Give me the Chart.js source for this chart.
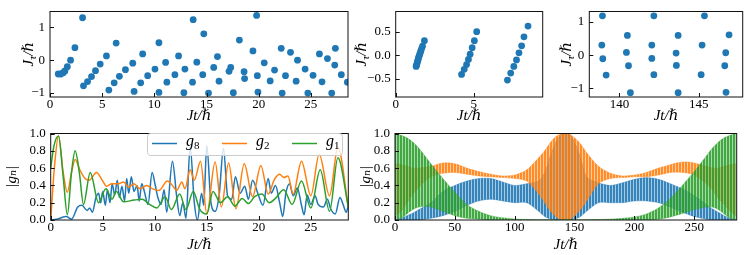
<!DOCTYPE html>
<html>
<head>
<meta charset="utf-8">
<script src="https://cdn.jsdelivr.net/npm/chart.js@4.4.1/dist/chart.umd.min.js"></script>
<style>
  body { margin: 0; background: #fff; width: 748px; height: 255px; position: relative; overflow: hidden; }
  canvas { position: absolute; }
</style>
</head>
<body>
<canvas id="cA"></canvas>
<canvas id="cB"></canvas>
<canvas id="cC"></canvas>
<canvas id="cD"></canvas>
<canvas id="cE"></canvas>
<script>
const blue = "#1f77b4", orange = "#ff7f0e", green = "#2ca02c";

// top left: J_tau against Jt
const aT = [0.79, 1.05, 1.27, 1.43, 1.66, 1.97, 2.39, 3.12, 3.21, 3.6, 3.98, 4.36, 4.81, 5.41, 5.64, 6.15, 6.34, 6.65, 7.23, 7.93,
  8.06, 8.69, 8.88, 9.36, 10.06, 10.44, 10.44, 11.08, 11.2, 11.97, 12.32, 12.83, 12.93, 13.66, 13.72, 14.07, 14.64, 14.74, 15.19, 15.69,
  16.05, 16.2, 17.16, 17.32, 17.57, 18.15, 18.6, 18.65, 19.45, 19.8, 19.87, 19.93, 20.53, 21.1, 21.52, 22.16, 22.25, 22.57, 23.05, 23.59,
  23.72, 24.45, 24.71, 25.21, 25.82, 26.07, 26.59, 27.0, 27.29, 27.35, 27.92, 28.5];
const aJ = [-0.42, -0.42, -0.38, -0.33, -0.2, 0.0, 0.38, 1.29, -0.78, -0.65, -0.5, -0.32, -0.12, 0.13, -0.91, -0.69, 0.52, -0.49, -0.29, -0.09,
  -0.95, -0.69, 0.19, -0.47, -0.27, 0.53, -0.98, -0.07, -0.67, -0.44, 0.13, -0.99, -0.27, -0.67, 1.23, -0.06, -0.44, 0.8, -1.0, -0.22,
  0.11, -0.64, -0.34, -0.22, -0.99, 0.61, -0.35, -0.56, 0.28, 1.36, -0.47, -0.97, -0.08, -0.63, -0.3, 0.36, -1.0, -0.47, 0.24, -0.64,
  0.0, -0.27, -1.0, -0.46, 0.19, -0.66, 0.05, -1.0, -0.15, 0.36, -0.44, -0.67];

// top middle
const bT = [1.31, 1.34, 1.37, 1.40, 1.43, 1.46, 1.49, 1.53, 1.57, 1.61, 1.66, 1.72, 1.84,
  4.22, 4.39, 4.54, 4.66, 4.77, 4.90, 5.04, 5.19,
  7.16, 7.37, 7.57, 7.74, 7.90, 8.07, 8.22, 8.48];
const bJ = [-0.24, -0.21, -0.17, -0.13, -0.10, -0.06, -0.03, 0.01, 0.05, 0.09, 0.14, 0.19, 0.31,
  -0.41, -0.30, -0.20, -0.09, 0.02, 0.16, 0.31, 0.50,
  -0.53, -0.38, -0.24, -0.10, 0.05, 0.20, 0.39, 0.62];

// top right
const cT = [138.93, 138.89, 138.95, 139.16, 140.5, 140.44, 140.57, 140.69, 142.17, 142.04, 142.04, 142.17,
  143.7, 143.57, 143.59, 143.7, 145.36, 145.21, 145.15, 146.91, 146.7, 146.64, 146.72];
const cJ = [1.18, 0.30, -0.11, -0.60, 0.59, 0.08, -0.32, -1.13, 1.18, 0.30, -0.10, -0.59,
  0.59, 0.06, -0.31, -1.13, 1.18, 0.30, -0.59, 0.61, 0.07, -0.32, -1.12];

// bottom left: |g_n| over a short time, [Jt, value]
const g8 = [[0, 0], [0.6, 0.01], [1.5, 0.04], [2.0, 0.01], [2.6, 0.15], [3.0, 0.17], [3.5, 0.11], [3.75, 0.14], [4.0, 0.09],
  [4.35, 0.26], [4.6, 0.31], [4.8, 0.2], [5.0, 0.33], [5.25, 0.17], [5.45, 0.35], [5.7, 0.2], [5.9, 0.42], [6.15, 0.29],
  [6.4, 0.46], [6.6, 0.26], [6.85, 0.39], [7.1, 0.22], [7.3, 0.48], [7.5, 0.31], [7.75, 0.5], [8.0, 0.33], [8.3, 0.4],
  [8.5, 0.22], [8.75, 0.42], [9.0, 0.33], [9.35, 0.18], [9.75, 0.55], [10.05, 0.4], [10.3, 0.26], [10.6, 0.18], [10.9, 0.35],
  [11.15, 0.09], [11.7, 0.68], [12.1, 0.28], [12.4, 0.05], [12.7, 0.2], [13.0, 0.02], [13.4, 0.85], [13.8, 0.2], [14.1, 0.0],
  [14.5, 0.31], [14.7, 0.17], [15.0, 0.86], [15.4, 0.2], [15.8, 0.1], [16.2, 0.3], [16.6, 0.83], [17.0, 0.28], [17.4, 0.24],
  [17.75, 0.5], [18.2, 0.31], [18.65, 0.39], [19.0, 0.24], [19.4, 0.46], [19.9, 0.31], [20.4, 0.17], [20.9, 0.48], [21.2, 0.31],
  [21.6, 0.4], [22.0, 0.2], [22.3, 0.04], [22.6, 0.31], [22.95, 0.42], [23.3, 0.28], [23.7, 0.37], [24.1, 0.17], [24.35, 0.06],
  [24.65, 0.29], [25.0, 0.18], [25.4, 0.28], [25.7, 0.18], [26.2, 0.15], [26.6, 0.24], [26.9, 0.13], [27.35, 0.07], [27.8, 0.26],
  [28.1, 0.18], [28.4, 0.09], [28.6, 0.17]];
const g2 = [[0, 0], [0.35, 0.6], [0.75, 0.97], [1.2, 0.55], [1.6, 0.32], [2.0, 0.55], [2.35, 0.7], [2.8, 0.58], [3.3, 0.48],
  [3.7, 0.46], [4.4, 0.55], [5.0, 0.45], [5.35, 0.39], [5.9, 0.42], [6.5, 0.42], [7.0, 0.44], [7.5, 0.38], [8.0, 0.42],
  [8.6, 0.36], [9.2, 0.4], [9.8, 0.36], [10.4, 0.34], [11.2, 0.45], [11.7, 0.4], [12.1, 0.34], [12.6, 0.44], [12.9, 0.36],
  [13.4, 0.58], [13.8, 0.46], [14.4, 0.68], [15.0, 0.07], [15.8, 0.67], [16.4, 0.15], [17.1, 0.66], [17.8, 0.13], [18.6, 0.65],
  [19.4, 0.27], [20.2, 0.63], [20.9, 0.3], [21.5, 0.47], [22.0, 0.53], [22.4, 0.49], [22.8, 0.51], [23.3, 0.3], [24.1, 0.68],
  [25.0, 0.28], [25.8, 0.76], [26.8, 0.28], [27.6, 0.84], [28.6, 0.15]];
const g1 = [[0, 0.6], [0.3, 0.85], [0.75, 0.97], [1.2, 0.5], [1.6, 0.06], [2.0, 0.55], [2.35, 0.8], [2.75, 0.55], [3.15, 0.18],
  [3.8, 0.55], [4.6, 0.2], [5.3, 0.36], [5.9, 0.24], [6.3, 0.33], [7.0, 0.21], [8.0, 0.23], [8.8, 0.24], [9.5, 0.18],
  [10.2, 0.14], [11.0, 0.27], [11.6, 0.12], [12.4, 0.3], [13.0, 0.12], [13.7, 0.33], [14.3, 0.13], [15.0, 0.07], [15.6, 0.33],
  [16.3, 0.2], [17.0, 0.27], [17.7, 0.16], [18.4, 0.25], [19.0, 0.19], [19.6, 0.27], [20.3, 0.3], [21.0, 0.2], [21.6, 0.25],
  [22.4, 0.35], [23.2, 0.18], [24.1, 0.45], [25.0, 0.14], [25.9, 0.58], [26.8, 0.1], [27.6, 0.72], [28.6, 0.15]];
const legendSubs = ["8", "2", "1"];

// bottom right: envelopes of the fast oscillation of |g_n| over a long time
const tE = [0, 5, 10, 15, 20, 30, 40, 50, 60, 70, 80, 90, 100, 110, 120, 125, 130, 135, 140, 145, 150, 155, 160,
  170, 180, 190, 200, 210, 220, 230, 240, 250, 260, 265, 270, 275, 280, 285];
const g8Hi = [0, 0.02, 0.05, 0.08, 0.12, 0.2, 0.33, 0.4, 0.45, 0.48, 0.48, 0.44, 0.4, 0.42, 0.45, 0.55, 0.75, 0.92, 1.0, 1.0, 0.9, 0.72, 0.5,
  0.43, 0.4, 0.43, 0.47, 0.49, 0.47, 0.42, 0.36, 0.28, 0.18, 0.13, 0.09, 0.05, 0.02, 0];
const g8Lo = [0, 0, 0, 0, 0, 0.02, 0.05, 0.1, 0.17, 0.22, 0.24, 0.22, 0.2, 0.2, 0.1, 0.04, 0.01, 0, 0, 0, 0.01, 0.04, 0.1,
  0.2, 0.2, 0.2, 0.22, 0.22, 0.2, 0.15, 0.09, 0.04, 0.01, 0, 0, 0, 0, 0];
const g2Hi = [0.65, 0.64, 0.62, 0.6, 0.6, 0.62, 0.66, 0.65, 0.6, 0.56, 0.53, 0.51, 0.52, 0.58, 0.72, 0.8, 0.9, 0.97, 1.0, 1.0, 0.95, 0.88, 0.78,
  0.62, 0.54, 0.51, 0.52, 0.55, 0.6, 0.64, 0.67, 0.66, 0.62, 0.6, 0.6, 0.62, 0.64, 0.65];
const g2Lo = [0.05, 0.1, 0.2, 0.3, 0.38, 0.5, 0.54, 0.55, 0.53, 0.51, 0.5, 0.49, 0.48, 0.45, 0.3, 0.2, 0.1, 0.03, 0, 0, 0.05, 0.12, 0.22,
  0.42, 0.48, 0.49, 0.5, 0.5, 0.52, 0.55, 0.55, 0.52, 0.42, 0.35, 0.25, 0.18, 0.1, 0.05];
const g1Hi = [1.0, 0.98, 0.95, 0.9, 0.83, 0.65, 0.48, 0.32, 0.18, 0.1, 0.05, 0.025, 0.012, 0.006, 0.004, 0.003, 0.003, 0.003, 0.003, 0.003, 0.003, 0.003, 0.004,
  0.006, 0.01, 0.02, 0.035, 0.07, 0.14, 0.25, 0.4, 0.56, 0.74, 0.83, 0.9, 0.95, 0.98, 1.0];
const g1Lo = [0, 0.02, 0.07, 0.12, 0.15, 0.15, 0.1, 0.05, 0.02, 0.01, 0, 0, 0, 0, 0, 0, 0, 0, 0, 0, 0, 0, 0,
  0, 0, 0, 0, 0, 0.01, 0.035, 0.075, 0.12, 0.15, 0.15, 0.12, 0.07, 0.02, 0];

// tick values
const ticksA = [0, 5, 10, 15, 20, 25], ticksAy = [-1, 0, 1];
const ticksB = [0, 5], ticksBy = [-0.5, 0, 0.5];
const ticksC = [140, 145], ticksCy = [-1, 0, 1];
const ticksD = [0, 5, 10, 15, 20, 25], ticksDy = [0, 0.2, 0.4, 0.6, 0.8, 1.0];
const ticksE = [0, 50, 100, 150, 200, 250], ticksEy = [0, 0.2, 0.4, 0.6, 0.8, 1.0];

const serif = "'Liberation Serif', 'DejaVu Serif', serif";
const fontTick = { family: serif, size: 13, lineHeight: 1 };
const fontTitle = { family: serif, size: 15, style: "italic" };

function fmt(dec) {
  return (v) => (v < 0 ? "\u2212" : "") + Math.abs(v).toFixed(dec);
}

function axis(min, max, ticks, dec, title, titlePad, tickPad) {
  return {
    type: "linear",
    min: min,
    max: max,
    grid: { display: false, drawTicks: false, tickLength: 0 },
    border: { display: false },
    afterBuildTicks: (s) => { s.ticks = ticks.map((v) => ({ value: v })); },
    ticks: { font: fontTick, color: "#000", padding: tickPad, callback: fmt(dec), maxRotation: 0, autoSkip: false },
    title: { display: !!title, text: title, font: fontTitle, color: "#000", padding: titlePad },
  };
}

// box frame + inward ticks
const frame = {
  id: "frame",
  afterDatasetsDraw(chart) {
    const { ctx, chartArea: a, scales } = chart;
    const x = scales.x, y = scales.y;
    ctx.save();
    ctx.strokeStyle = "#111";
    ctx.lineWidth = 1;
    ctx.beginPath();
    x.ticks.forEach((t) => {
      const p = Math.round(x.getPixelForValue(t.value)) + 0.5;
      ctx.moveTo(p, a.bottom);
      ctx.lineTo(p, a.bottom - 4);
    });
    y.ticks.forEach((t) => {
      const p = Math.round(y.getPixelForValue(t.value)) + 0.5;
      ctx.moveTo(a.left, p);
      ctx.lineTo(a.left + 4, p);
    });
    ctx.stroke();
    ctx.strokeRect(a.left, a.top, a.right - a.left, a.bottom - a.top);
    ctx.restore();
  },
};

// rotated y title J_tau / hbar, with tau as a subscript
function jTauTitle(cx) {
  return {
    id: "jtau",
    afterDraw(chart) {
      const ctx = chart.ctx, a = chart.chartArea;
      const parts = [["J", 15, 0], ["\u03c4", 11, 3], ["/\u210f", 15, 0]];
      ctx.save();
      ctx.fillStyle = "#000";
      ctx.textBaseline = "alphabetic";
      let w = 0;
      parts.forEach((p) => { ctx.font = "italic " + p[1] + "px " + serif; w += ctx.measureText(p[0]).width; });
      ctx.translate(cx, (a.top + a.bottom) / 2);
      ctx.rotate(-Math.PI / 2);
      let x = -w / 2;
      parts.forEach((p) => {
        ctx.font = "italic " + p[1] + "px " + serif;
        ctx.fillText(p[0], x, 5 + p[2]);
        x += ctx.measureText(p[0]).width;
      });
      ctx.restore();
    },
  };
}

// legend with subscripts for the bottom left panel
const legendD = {
  id: "legendD",
  afterDatasetsDraw(chart) {
    const ctx = chart.ctx;
    ctx.save();
    ctx.beginPath();
    ctx.roundRect(147.5, 11.5, 195, 22, 3);
    ctx.fillStyle = "rgba(255,255,255,0.8)";
    ctx.fill();
    ctx.strokeStyle = "#cccccc";
    ctx.lineWidth = 1;
    ctx.stroke();
    const cols = [blue, orange, green];
    const xs = [152, 222, 292];
    legendSubs.forEach((s, i) => {
      ctx.strokeStyle = cols[i];
      ctx.lineWidth = 1.5;
      ctx.beginPath();
      ctx.moveTo(xs[i], 21.5);
      ctx.lineTo(xs[i] + 25, 21.5);
      ctx.stroke();
      ctx.fillStyle = "#000";
      ctx.font = "italic 16px " + serif;
      ctx.textBaseline = "alphabetic";
      ctx.fillText("g", xs[i] + 34, 24);
      const w = ctx.measureText("g").width;
      ctx.font = "11px " + serif;
      ctx.fillText(s, xs[i] + 34 + w, 27);
    });
    ctx.restore();
  },
};

function panel(id, box, plot, type, datasets, xs, ys, extra) {
  const cv = document.getElementById(id);
  cv.width = box[2];
  cv.height = box[3];
  cv.style.left = box[0] + "px";
  cv.style.top = box[1] + "px";
  const yW = plot[0] - box[0];
  const padR = box[0] + box[2] - plot[2];
  const padT = plot[1] - box[1];
  const xH = box[1] + box[3] - plot[3];
  xs.afterFit = (s) => { s.height = xH; };
  ys.afterFit = (s) => { s.width = yW; };
  return new Chart(cv, {
    type: type,
    data: { datasets: datasets },
    options: {
      responsive: false,
      animation: false,
      events: [],
      layout: { padding: { left: 0, top: padT, right: padR, bottom: 0 } },
      plugins: { legend: { display: false }, tooltip: { enabled: false } },
      scales: { x: xs, y: ys },
    },
    plugins: [frame].concat(extra || []),
  });
}

function dots(xv, yv) {
  return [{
    data: xv.map((v, i) => ({ x: v, y: yv[i] })),
    backgroundColor: blue,
    borderWidth: 0,
    pointRadius: 3.4,
  }];
}

function curve(pts, col) {
  return {
    data: pts.map((p) => ({ x: p[0], y: p[1] })),
    borderColor: col,
    borderWidth: 1.5,
    pointRadius: 0,
    cubicInterpolationMode: "monotone",
    fill: false,
  };
}

function stripes(rgb) {
  const c = document.createElement("canvas");
  c.width = 3;
  c.height = 1;
  const x = c.getContext("2d");
  x.fillStyle = "rgba(" + rgb + ",0.9)";
  x.fillRect(0, 0, 2, 1);
  x.fillStyle = "rgba(" + rgb + ",0.4)";
  x.fillRect(2, 0, 1, 1);
  return x.createPattern(c, "repeat");
}

function band(hi, lo, rgb) {
  const pat = stripes(rgb);
  return [
    { data: tE.map((t, i) => ({ x: t, y: hi[i] })), borderColor: "rgba(" + rgb + ",0.6)", borderWidth: 0.6,
      pointRadius: 0, tension: 0.3, fill: "+1", backgroundColor: pat },
    { data: tE.map((t, i) => ({ x: t, y: lo[i] })), borderColor: "rgba(" + rgb + ",0.6)", borderWidth: 0.6,
      pointRadius: 0, tension: 0.3, fill: false },
  ];
}

panel("cA", [0, 0, 352, 128], [50, 5, 349, 97], "scatter", dots(aT, aJ),
  axis(0, 28.56, ticksA, 0, "Jt/\u210f", { top: 0, bottom: 3 }, 1),
  axis(-1.12, 1.48, ticksAy, 0, "", 0, 5), [jTauTitle(28)]);

panel("cB", [348, 0, 202, 128], [395.7, 5, 542.7, 97], "scatter", dots(bT, bJ),
  axis(0, 9.42, ticksB, 0, "Jt/\u210f", { top: 0, bottom: 3 }, 1),
  axis(-0.89, 0.93, ticksBy, 1, "", 0, 5), [jTauTitle(361 - 348)]);

panel("cC", [550, 0, 198, 128], [589.3, 5, 742.7, 97], "scatter", dots(cT, cJ),
  axis(138.1, 147.77, ticksC, 0, "Jt/\u210f", { top: 0, bottom: 3 }, 1),
  axis(-1.26, 1.31, ticksCy, 0, "", 0, 5), [jTauTitle(566 - 550)]);

panel("cD", [0, 122, 352, 133], [50.7, 129.3, 348.3, 220], "line",
  [curve(g1, green), curve(g2, orange), curve(g8, blue)],
  axis(0, 28.6, ticksD, 0, "Jt/\u210f", { top: 0, bottom: 1 }, 1),
  axis(0, 1, ticksDy, 1, "|g\u2099|", { top: 3, bottom: 0 }, 5), [legendD]);

panel("cE", [355, 122, 393, 133], [395, 129.3, 736.7, 220], "line",
  band(g1Hi, g1Lo, "44,160,44").concat(band(g2Hi, g2Lo, "255,127,14"), band(g8Hi, g8Lo, "31,119,180")),
  axis(0, 285.4, ticksE, 0, "Jt/\u210f", { top: 0, bottom: 1 }, 1),
  axis(0, 1, ticksEy, 1, "|g\u2099|", { top: 2, bottom: 0 }, 5));
</script>
</body>
</html>
